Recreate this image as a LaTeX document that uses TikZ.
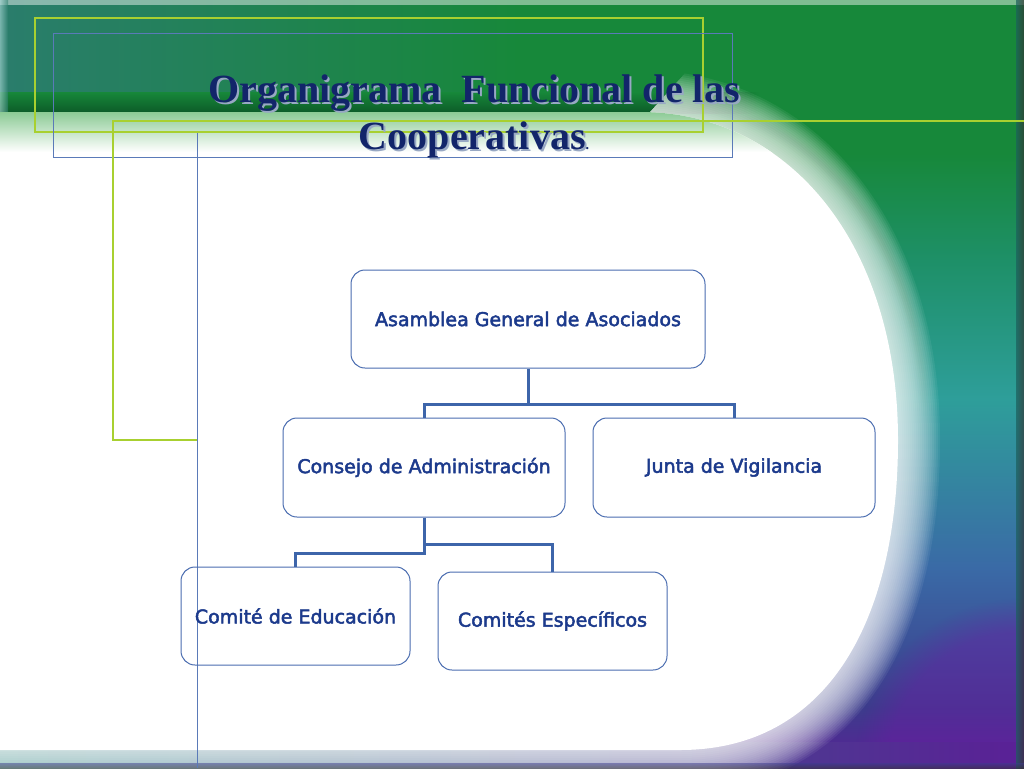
\documentclass[tikz,border=0pt]{standalone}
\usepackage{fontspec}
\setmainfont{Liberation Serif}
\newfontfamily\boxfont[FakeBold=2.5]{DejaVu Sans}
\usetikzlibrary{fadings}
\tikzfading[name=rimfade, top color=transparent!0, bottom color=transparent!100]
\definecolor{cGreen}{HTML}{17883A}
\definecolor{cTealG}{HTML}{1E9068}
\definecolor{cTeal}{HTML}{2E9E9A}
\definecolor{cBlue}{HTML}{3A6AA6}
\definecolor{cBlueP}{HTML}{3C3C8C}
\definecolor{cPurple}{HTML}{5A2096}
\definecolor{cPurpleHi}{HTML}{6E1AA6}
\definecolor{bandLeft}{HTML}{2A7D6C}
\definecolor{bandDark}{HTML}{0C5A28}
\definecolor{boxLine}{HTML}{4A6DB0}
\definecolor{connCol}{HTML}{3D65AA}
\definecolor{boxText}{HTML}{1C3A8C}
\definecolor{titleCol}{HTML}{12256A}
\definecolor{shadowCol}{HTML}{98A8C4}
\definecolor{ygCol}{HTML}{A8D030}
\definecolor{blCol}{HTML}{5A7AB8}
\definecolor{innerGreen}{HTML}{86C890}
% TikZ maps a path onto the 25bp..75bp part of a shading
\pgfdeclareverticalshading{bgv}{100bp}{color(0bp)=(cPurple); color(25bp)=(cPurple); color(29bp)=(cBlueP); color(38bp)=(cBlue); color(49bp)=(cTeal); color(58bp)=(cTealG); color(65bp)=(cGreen); color(75bp)=(cGreen); color(100bp)=(cGreen)}
\newcommand{\shadowtext}[1]{\rlap{\kern2pt\raisebox{-2pt}{\color{shadowCol}#1}}#1}
\begin{document}
\begin{tikzpicture}[x=1pt,y=-1pt,
  box/.style={draw=boxLine, line width=1pt, rounded corners=14pt, align=center,
    text=boxText, font=\boxfont\fontsize{19}{22}\selectfont},
  conn/.style={draw=connCol, line width=3pt},
  ygline/.style={draw=ygCol, line width=1.2pt},
  bline/.style={draw=blCol, line width=1pt},
  ttl/.style={text=titleCol, font=\bfseries\fontsize{40}{46}\selectfont, inner sep=0pt}]
\useasboundingbox (0,0) rectangle (1024,768);
% background
\shade[shading=bgv] (0,0) rectangle (1024,768);
\shade[left color=bandLeft, right color=cGreen] (0,0) rectangle (520,112);
\fill[cPurpleHi, opacity=0.4, path fading=circle with fuzzy edge 20 percent] (1024,768) circle (170);
\shade[left color=cTeal!85!black, right color=cPurple] (0,742) rectangle (1024,768);
\shade[top color=cGreen, bottom color=bandDark] (0,92) rectangle (700,113);
\shade[left color=bandDark, right color=cGreen] (700,92) rectangle (760,113);
\fill[white, opacity=0.45] (0,0) rectangle (1024,5);
\shade[left color=white!60!cTeal, right color=bandLeft, opacity=0.6] (0,0) rectangle (8,112);
% dark rim outside the curve (upper part)
\foreach \w/\o in {14/0.10, 9/0.14, 5/0.18}{
  \draw[bandDark, line width=\w pt, opacity=\o, path fading=rimfade] (690,110) .. controls (820,112) and (925,250) .. (925,430);
}
% white blob with glow
\path[save path=\blobp] (-30,112) -- (640,112) .. controls (790,112) and (898,245) .. (898,440) .. controls (898,620) and (828,750) .. (680,750) -- (-30,750) -- cycle;
\begin{scope}
  \clip (-10,112) -- (650,112) -- (760,-10) -- (1034,-10) -- (1034,780) -- (-10,780) -- cycle;
  \foreach \w in {4,8,...,84}{
    \path[draw=white, line width=\w pt, opacity=0.065, line join=round, use path=\blobp];
  }
\end{scope}
\path[fill=white, use path=\blobp];
\begin{scope}
  \clip[use path=\blobp];
  \shade[top color=innerGreen, bottom color=white] (0,110) rectangle (1024,152);
\end{scope}
% edges
\shade[left color=cTeal!60!black, right color=black!80, opacity=0.7] (1016,0) rectangle (1024,768);
\shade[top color=cBlueP, bottom color=black!80, opacity=0.5] (0,763) rectangle (1024,768);
% decorative lines
\draw[ygline] (35,18) rectangle (703,132);
\draw[bline] (53,34) rectangle (732,157);
\coordinate (ygA) at (1024,121);
\coordinate (ygB) at (113,121);
\coordinate (ygC) at (113,440);
\coordinate (ygD) at (197,440);
\draw[ygline] (ygA) -- (ygB) -- (ygC) -- (ygD);
\coordinate (blA) at (197,133);
\coordinate (blB) at (197,768);
\draw[bline] (blA) -- (blB);
% org chart
\node[box, minimum width=354pt, minimum height=98pt] (asam) at (528,319) {Asamblea General de Asociados};
\node[box, minimum width=282pt, minimum height=99pt] (cons) at (424,467.5) {Consejo de Administración};
\node[box, minimum width=282pt, minimum height=99pt] (junta) at (734,467.5) {Junta de Vigilancia};
\node[box, minimum width=229pt, minimum height=98pt, inner sep=1pt] (edu) at (295.5,616) {Comité de Educación};
\node[box, minimum width=229pt, minimum height=98pt] (esp) at (552.5,621) {Comités Específicos};
\coordinate (j1) at (528,404);
\coordinate (j2) at (424,553);
\coordinate (j3) at (424,544);
\draw[conn] (asam.south) -- (asam.south |- j1);
\draw[conn] (cons.north) |- (junta.north |- j1) -- (junta.north);
\draw[conn] (cons.south) |- (edu.north |- j2) -- (edu.north);
\draw[conn] (cons.south |- j3) -| (esp.north);
% title
\node[ttl, anchor=base] (t1) at (474,102) {\shadowtext{Organigrama\ \ Funcional de las}};
\node[ttl, anchor=base] (t2) at (474,149) {\shadowtext{Cooperativas}{\fontsize{14}{16}\selectfont.}};
\end{tikzpicture}
\end{document}
